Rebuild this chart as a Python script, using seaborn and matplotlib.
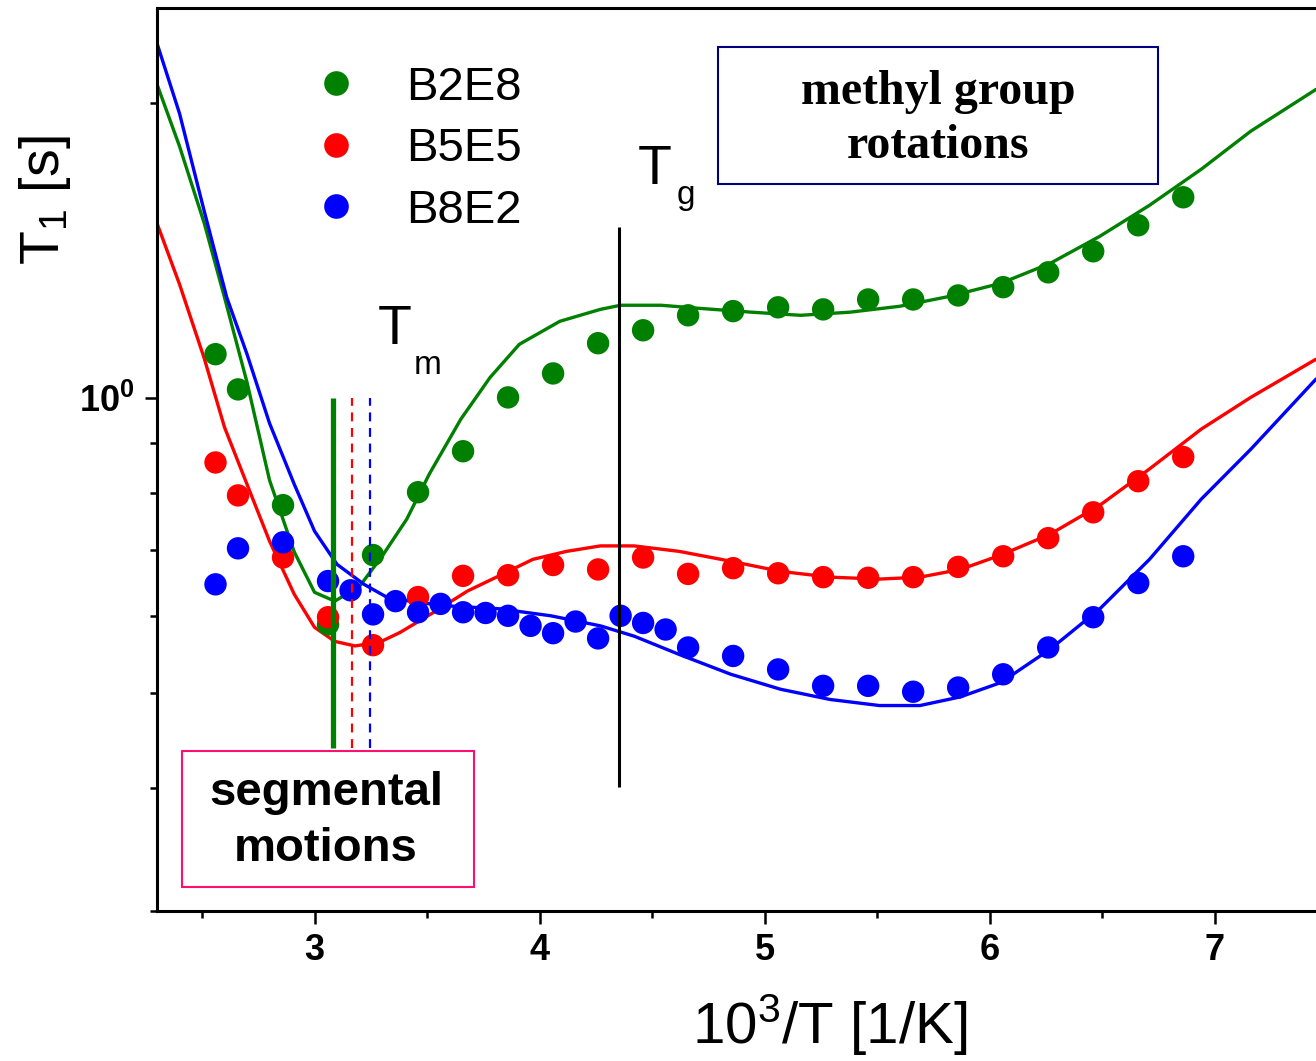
import numpy as np
import pandas as pd
import matplotlib
matplotlib.use("Agg")
import matplotlib.pyplot as plt
import matplotlib.ticker as mticker
from matplotlib.patches import Rectangle
import seaborn as sns

# ---- measured T1 values (points) ----
x_b2e8 = [2.56, 2.66, 2.86, 3.06, 3.26, 3.46, 3.66, 3.86, 4.06, 4.26, 4.46, 4.66,
          4.86, 5.06, 5.26, 5.46, 5.66, 5.86, 6.06, 6.26, 6.46, 6.66, 6.86]
t1_b2e8 = [1.109, 1.021, 0.778, 0.588, 0.692, 0.802, 0.883, 1.002, 1.060, 1.138, 1.173, 1.215,
           1.227, 1.238, 1.232, 1.261, 1.261, 1.273, 1.298, 1.344, 1.412, 1.501, 1.603]

x_b5e5 = [2.56, 2.66, 2.86, 3.06, 3.26, 3.46, 3.66, 3.86, 4.06, 4.26, 4.46, 4.66,
          4.86, 5.06, 5.26, 5.46, 5.66, 5.86, 6.06, 6.26, 6.46, 6.66, 6.86]
t1_b5e5 = [0.860, 0.796, 0.688, 0.598, 0.560, 0.627, 0.659, 0.660, 0.676, 0.669, 0.688, 0.662,
           0.671, 0.663, 0.657, 0.656, 0.657, 0.673, 0.690, 0.720, 0.765, 0.823, 0.871]

x_b8e2 = [2.56, 2.66, 2.86, 3.06, 3.16, 3.26, 3.36, 3.46, 3.56, 3.66, 3.76, 3.86, 3.96,
          4.06, 4.16, 4.26, 4.36, 4.46, 4.56, 4.66, 4.86, 5.06, 5.26, 5.46, 5.66, 5.86,
          6.06, 6.26, 6.46, 6.66, 6.86]
t1_b8e2 = [0.646, 0.703, 0.713, 0.651, 0.637, 0.602, 0.621, 0.605, 0.617, 0.605, 0.604, 0.600,
           0.586, 0.576, 0.592, 0.569, 0.600, 0.590, 0.581, 0.557, 0.546, 0.529, 0.509, 0.509,
           0.502, 0.507, 0.523, 0.557, 0.598, 0.648, 0.690]

# ---- model curves ----
fit_x_b2e8 = [2.30, 2.40, 2.51, 2.60, 2.70, 2.80, 2.91, 3.00, 3.09, 3.20, 3.30, 3.41, 3.51,
              3.65, 3.78, 3.91, 4.09, 4.27, 4.36, 4.54, 4.71, 4.94, 5.16, 5.38, 5.60, 5.82,
              6.05, 6.27, 6.49, 6.71, 6.94, 7.16, 7.45]
fit_b2e8 = [2.090, 1.807, 1.508, 1.267, 1.038, 0.825, 0.697, 0.634, 0.621, 0.643, 0.690, 0.753,
            0.837, 0.952, 1.050, 1.135, 1.198, 1.232, 1.244, 1.244, 1.235, 1.224, 1.215, 1.224,
            1.241, 1.270, 1.310, 1.373, 1.463, 1.573, 1.712, 1.872, 2.065]

fit_x_b5e5 = [2.30, 2.40, 2.51, 2.60, 2.70, 2.80, 2.91, 3.00, 3.09, 3.18, 3.29, 3.38, 3.53,
              3.68, 3.82, 3.97, 4.12, 4.27, 4.42, 4.62, 4.85, 5.07, 5.29, 5.51, 5.69, 5.87,
              6.05, 6.27, 6.49, 6.71, 6.94, 7.16, 7.45]
fit_b5e5 = [1.508, 1.307, 1.098, 0.934, 0.817, 0.715, 0.631, 0.584, 0.565, 0.559, 0.564, 0.577,
            0.605, 0.636, 0.659, 0.685, 0.698, 0.707, 0.707, 0.698, 0.682, 0.666, 0.657, 0.654,
            0.657, 0.669, 0.692, 0.727, 0.778, 0.847, 0.930, 1.002, 1.096]

fit_x_b8e2 = [2.30, 2.40, 2.51, 2.61, 2.70, 2.80, 2.91, 3.00, 3.10, 3.22, 3.32, 3.46, 3.60,
              3.82, 4.05, 4.27, 4.42, 4.62, 4.85, 5.07, 5.29, 5.51, 5.69, 5.87, 6.05, 6.27,
              6.49, 6.71, 6.94, 7.16, 7.45]
fit_b8e2 = [2.301, 1.952, 1.551, 1.267, 1.109, 0.943, 0.817, 0.732, 0.677, 0.646, 0.627, 0.619,
            0.614, 0.610, 0.600, 0.586, 0.572, 0.548, 0.523, 0.505, 0.493, 0.486, 0.486, 0.496,
            0.513, 0.555, 0.610, 0.685, 0.789, 0.887, 1.046]

samples = ["B2E8", "B5E5", "B8E2"]
colors = {"B2E8": "#008000", "B5E5": "#ff0000", "B8E2": "#0000ff"}

# melting (Tm) and glass transition (Tg) markers, 10^3/T
tm_x = {"B2E8": 3.08, "B5E5": 3.165, "B8E2": 3.245}
tm_range = (0.44, 1.0)
tg_x = 4.355
tg_range = (0.401, 1.494)

points = pd.concat([
    pd.DataFrame({"x": x_b2e8, "T1": t1_b2e8, "sample": "B2E8"}),
    pd.DataFrame({"x": x_b5e5, "T1": t1_b5e5, "sample": "B5E5"}),
    pd.DataFrame({"x": x_b8e2, "T1": t1_b8e2, "sample": "B8E2"}),
], ignore_index=True)

fits = pd.concat([
    pd.DataFrame({"x": fit_x_b2e8, "T1": fit_b2e8, "sample": "B2E8"}),
    pd.DataFrame({"x": fit_x_b5e5, "T1": fit_b5e5, "sample": "B5E5"}),
    pd.DataFrame({"x": fit_x_b8e2, "T1": fit_b8e2, "sample": "B8E2"}),
], ignore_index=True)

sns.set_theme(style="ticks")
plt.rcParams["font.family"] = ["Liberation Sans", "DejaVu Sans"]
plt.rcParams["mathtext.fontset"] = "custom"
plt.rcParams["mathtext.rm"] = "Liberation Sans"
plt.rcParams["mathtext.bf"] = "Liberation Sans:bold"
plt.rcParams["mathtext.it"] = "Liberation Sans:italic"
for key in ["text.color", "axes.labelcolor", "xtick.color", "ytick.color",
            "xtick.labelcolor", "ytick.labelcolor", "axes.edgecolor"]:
    plt.rcParams[key] = "black"

W, H = 1316, 1061
fig = plt.figure(figsize=(W / 100, H / 100), dpi=100)
ax = fig.add_axes([157 / W, 1 - 911 / H, (W - 157) / W, (911 - 8) / H])

sns.lineplot(data=fits, x="x", y="T1", hue="sample", hue_order=samples, palette=colors,
             sort=False, estimator=None, linewidth=2.4, legend=False, ax=ax, zorder=2)
sns.scatterplot(data=points, x="x", y="T1", hue="sample", hue_order=samples, palette=colors,
                s=260, linewidth=0, ax=ax, zorder=3)

ax.set_yscale("log")
ax.set_xlim(2.3, 7.45)
ax.set_ylim(0.3, 2.5)

# transition markers
ax.vlines(tm_x["B2E8"], *tm_range, color=colors["B2E8"], linewidth=3.8, zorder=4)
ax.vlines(tm_x["B5E5"], *tm_range, color=colors["B5E5"], linewidth=1.6,
          linestyles=(0, (4, 3)), zorder=4)
ax.vlines(tm_x["B8E2"], *tm_range, color=colors["B8E2"], linewidth=1.6,
          linestyles=(0, (4, 3)), zorder=4)
ax.vlines(tg_x, *tg_range, color="black", linewidth=2.2, zorder=4)

ax.text(3.358, 1.135, "T", fontsize=40, ha="center", va="baseline")
ax.text(3.442, 1.058, "m", fontsize=24, ha="left", va="baseline")
ax.text(4.513, 1.652, "T", fontsize=40, ha="center", va="baseline")
ax.text(4.607, 1.577, "g", fontsize=24, ha="left", va="baseline")

# axes styling
for side in ["left", "bottom", "top"]:
    ax.spines[side].set_linewidth(2.2)
    ax.spines[side].set_color("black")
ax.spines["right"].set_visible(False)

ax.xaxis.set_major_locator(mticker.FixedLocator([3, 4, 5, 6, 7]))
ax.xaxis.set_minor_locator(mticker.FixedLocator([2.5, 3.5, 4.5, 5.5, 6.5]))
ax.xaxis.set_major_formatter(mticker.FormatStrFormatter("%d"))
ax.yaxis.set_major_locator(mticker.FixedLocator([1.0]))
ax.yaxis.set_minor_locator(mticker.FixedLocator([0.3, 0.4, 0.5, 0.6, 0.7, 0.8, 0.9, 2.0]))
ax.yaxis.set_major_formatter(mticker.FuncFormatter(lambda v, p: r"$\mathbf{10^{0}}$"))
ax.yaxis.set_minor_formatter(mticker.NullFormatter())

ax.tick_params(which="major", direction="out", length=9, width=1.8, labelsize=26,
               pad=7, colors="black", top=False, right=False)
ax.tick_params(which="minor", direction="out", length=5, width=1.8, top=False, right=False)
for lbl in ax.get_xticklabels():
    lbl.set_fontweight("bold")

ax.set_xlabel(r"10$^{\mathregular{3}}$/T [1/K]", fontsize=42)
ax.set_ylabel(r"T$_{\mathregular{1}}$ [s]", fontsize=40)
ax.xaxis.set_label_coords((830 - 157) / 1159, (911 - 1025) / 903)
ax.xaxis.label.set_va("center")
ax.yaxis.set_label_coords((45 - 157) / 1159, (911 - 200) / 903)
ax.yaxis.label.set_va("center")

leg = ax.legend(loc="upper left", bbox_to_anchor=(0.1355, 0.936), frameon=False,
                fontsize=34, borderpad=0, handlelength=0.94, handletextpad=1.0,
                labelspacing=0.37, borderaxespad=0, markerscale=1.1)

# annotation boxes
fig.patches.append(Rectangle((718 / W, 1 - 184 / H), 440 / W, 137 / H, transform=fig.transFigure,
                             fill=True, facecolor="white", edgecolor="#000080", linewidth=1.5,
                             zorder=5))
fig.text(938 / W, 1 - 119 / H, "methyl group\nrotations", fontsize=34.5, fontweight="bold",
         family="Liberation Serif", ha="center", va="center", linespacing=1.3, zorder=6)

fig.patches.append(Rectangle((182 / W, 1 - 887 / H), 292 / W, 136 / H, transform=fig.transFigure,
                             fill=True, facecolor="white", edgecolor="#ff1070", linewidth=1.5,
                             zorder=5))
fig.text(326 / W, 1 - 821 / H, "segmental\nmotions", fontsize=34, fontweight="bold",
         ha="center", va="center", linespacing=1.35, zorder=6)

fig.savefig("out.png", dpi=100, facecolor="white")
